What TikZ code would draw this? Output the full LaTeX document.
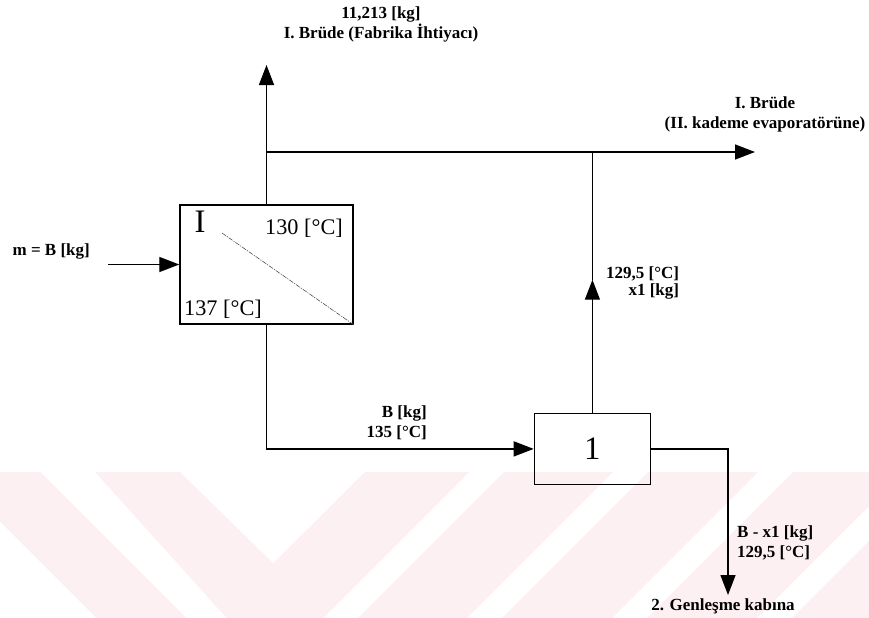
\documentclass[tikz,border=0pt]{standalone}
\usepackage{fontspec}
\setmainfont{Liberation Serif}
\usepackage{tikz}
\usetikzlibrary{arrows.meta, positioning, calc}
\definecolor{wmpink}{HTML}{FDF0F2}
\tikzset{
	vessel/.style={rectangle, draw=black, line width=1.2pt, inner sep=0pt},
	streamlabel/.style={font=\fontsize{14.5}{17}\selectfont\bfseries, inner sep=0pt, align=center},
	boxtext/.style={font=\fontsize{19}{21}\selectfont, inner sep=0pt},
	flow/.style={line width=1.2pt},
	arrow/.style={line width=1.2pt,-{Triangle[length=6mm, width=4.5mm]}},
	diag/.style={line width=0.5pt, black!70, dash pattern=on 4pt off 1pt on 1pt off 1pt}
}

\begin{document}
\begin{tikzpicture}[x=0.03cm, y=-0.03cm]
		\useasboundingbox (0,0) rectangle (869,618);
		
		% Filigran
		\begin{scope}
			\clip (0,472) rectangle (869,618);
			\fill [wmpink] (-49.5,472) -- (40.5,472) -- (186.5,618) -- (96.5,618) -- cycle;
			\fill [wmpink] (95,472) -- (180,472) -- (273.3,563.3) -- (365,472) -- (469.3,472) -- (323.3,618) -- (226.7,618) -- cycle;
			\foreach \a/\b in {976/1085, 1120/1230, 1265/1375, 1410/1560}
				\fill [wmpink] (\a-472,472) -- (\b-472,472) -- (\b-618,618) -- (\a-618,618) -- cycle;
		\end{scope}
		
		% Evaporatör ve genleşme kabı
		\node (boxI) [vessel, minimum width=5.19cm, minimum height=3.57cm] at (266.5,264.5) {};
		\node (box1) [vessel, minimum width=3.48cm, minimum height=2.13cm, below right=2.64cm and 5.4cm of boxI, font=\fontsize{28}{30}\selectfont] {1};
		
		\node (unitname) [font=\fontsize{28}{30}\selectfont, inner sep=0pt] at (200,221.7) {I};
		\node (tvapor) [boxtext] at (304,228) {130 [°C]};
		\node (tliquid) [boxtext] at (223,309) {137 [°C]};
		\coordinate (diagstart) at (222,233);
		\draw [diag] (diagstart) -- (boxI.south east);
		
		% Etiketler
		\node (topout) [streamlabel] at (381,24) {11,213 [kg]\\ I. Brüde (Fabrika İhtiyacı)};
		\node (evapout) [streamlabel] at (765,114) {I. Brüde\\ (II. kademe evaporatörüne)};
		\node (feedlbl) [streamlabel, anchor=east] at (90,251) {m = B [kg]};
		\node (vaplbl) [streamlabel, align=right, anchor=west] at (606,283) {129,5 [°C]\\[-3pt] x1 [kg]};
		\node (bottomlbl) [streamlabel, align=right, anchor=east] at (427,423) {B [kg]\\ 135 [°C]};
		\node (liqlbl) [streamlabel, align=left, anchor=west] at (737,543) {B - x1 [kg]\\ 129,5 [°C]};
		\node (liqout) [streamlabel] at (723,606) {2. Genleşme kabına};
		
		% Bağlantılar
		\coordinate (feedin) at (108,264.5);
		\coordinate (split) at (266.5,152);
		\coordinate (brudetop) at (266.5,65);
		\coordinate (brudeevap) at (755,152);
		\coordinate (liqend) at (728,595);
		\path (box1.north) ++(0,-133) coordinate (vaptip);
		
		\draw [arrow] (feedin) -- (boxI.west);
		\draw [flow] (boxI.north) -- (split);
		\draw [arrow] (split) -- (brudetop);
		\draw [arrow] (split) -- (brudeevap);
		\draw [arrow] (box1.north) -- (vaptip);
		\draw [flow] (vaptip) -- (box1.north |- split);
		\draw [arrow] (boxI.south) |- (box1.west);
		\draw [arrow] (box1.east) -| (liqend);
	\end{tikzpicture}
\end{document}
